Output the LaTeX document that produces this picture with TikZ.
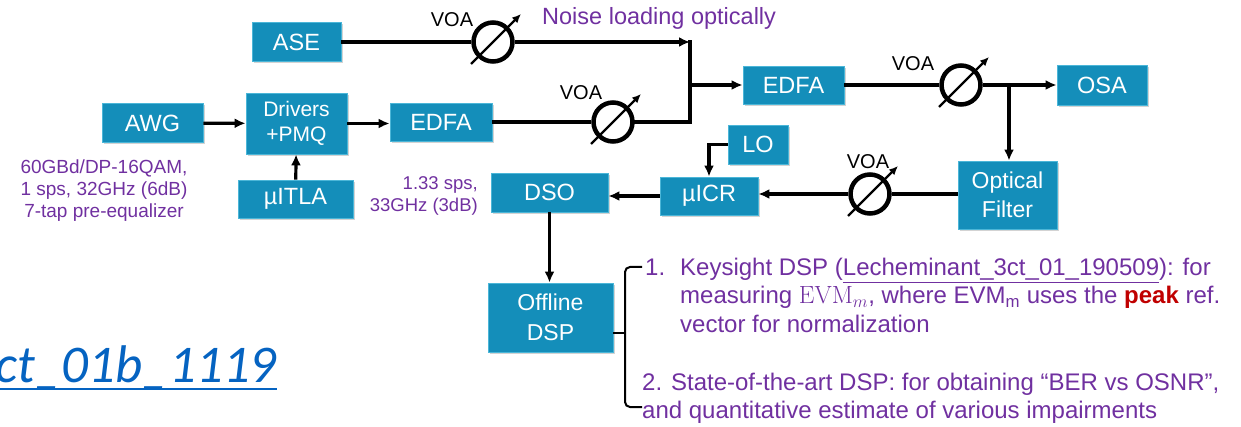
\documentclass[tikz,border=0pt]{standalone}
\usepackage[no-math]{fontspec}
\setmainfont{Liberation Sans}
\newfontfamily\linkfont{Carlito}
\usepackage{tikz}
\usetikzlibrary{positioning,arrows.meta,shadows}
\definecolor{boxteal}{RGB}{20,142,186}
\definecolor{boxedge}{RGB}{75,182,216}
\definecolor{notepurple}{RGB}{112,48,160}
\definecolor{peakred}{RGB}{192,0,0}
\definecolor{linkblue}{RGB}{5,99,193}
\tikzset{
  boxstyle/.style={rectangle, draw=boxedge, line width=0.8pt, fill=boxteal, text=white,
    minimum height=39pt, inner sep=0pt, align=center, font=\fontsize{23.5}{29}\selectfont,
    drop shadow={shadow xshift=1.5pt, shadow yshift=-2pt, opacity=0.35}},
  linestyle/.style={black, line width=3.2pt},
  arrowstyle/.style={-{Latex[length=11pt,width=10pt]}, black, line width=3.2pt},
  voastyle/.style={circle, draw=black, line width=4.5pt, fill=white, minimum size=39pt, inner sep=0pt},
  tunestyle/.style={-{Latex[length=9pt,width=8pt]}, black, line width=2.3pt},
  voalabel/.style={inner sep=0pt, font=\fontsize{20}{22}\selectfont},
  notestyle/.style={text=notepurple, inner sep=0pt, font=\fontsize{19}{22}\selectfont},
  itemstyle/.style={text=notepurple, inner sep=0pt, anchor=base west, font=\fontsize{24}{28}\selectfont},
  bracketline/.style={black, line width=2pt, rounded corners=5pt}
}

\begin{document}
\begin{tikzpicture}[x=1pt, y=-1pt]
  \useasboundingbox (0,0) rectangle (1241,427);

  % transmitter
  \node[boxstyle, minimum width=101pt] (awg) at (152.5,123) {AWG};
  \node[boxstyle, minimum width=101pt, minimum height=61pt, font=\fontsize{21}{25}\selectfont] (drv) at (296.5,123.5) {Drivers\\+PMQ};
  \node[boxstyle, minimum width=115pt, minimum height=38pt] (itla) at (295.5,199) {µITLA};
  \node[boxstyle, minimum width=89pt] (ase) at (296.5,42) {ASE};
  \node[boxstyle, minimum width=102pt, minimum height=38pt] (edfaA) at (441,122) {EDFA};

  % noise loading
  \node[voastyle] (voaA) at (493,42) {};
  \node[voastyle] (voaB) at (613,122) {};
  \coordinate (jtop) at (690,42);
  \coordinate (jbot) at (690,122);
  \coordinate (jmid) at (690,85);

  % receiver side
  \node[boxstyle, minimum width=101pt, minimum height=38pt] (edfaB) at (793.5,85) {EDFA};
  \node[voastyle] (voaC) at (961,85) {};
  \node[boxstyle, minimum width=90pt, minimum height=40pt] (osa) at (1102,85) {OSA};
  \coordinate (jsplit) at (1009,85);
  \node[boxstyle, minimum width=99pt, minimum height=68pt, font=\fontsize{23}{29}\selectfont] (filt) at (1007.5,195) {Optical\\Filter};
  \node[voastyle] (voaD) at (870,194) {};
  \node[boxstyle, minimum width=98pt, minimum height=38pt] (icr) at (709,196) {µICR};
  \node[boxstyle, minimum width=60pt] (lo) at (758,144.5) {LO};
  \node[boxstyle, minimum width=117pt] (dso) at (549.5,192.5) {DSO};
  \node[boxstyle, minimum width=125pt, minimum height=69pt, font=\fontsize{23}{30}\selectfont] (off) at (550.5,317.5) {Offline\\DSP};

  % labels
  \node[voalabel] (lblA) at (452,20) {VOA};
  \node[voalabel] (lblB) at (581,93) {VOA};
  \node[voalabel] (lblC) at (913,64) {VOA};
  \node[voalabel] (lblD) at (868,162) {VOA};
  \node[notestyle, anchor=base west, font=\fontsize{23.5}{28}\selectfont] (noise) at (542,25) {Noise loading optically};
  \node[notestyle, align=center] (awgnote) at (104,191) {60GBd/DP-16QAM,\\1 sps, 32GHz (6dB)\\7-tap pre-equalizer};
  \node[notestyle, align=right, anchor=east, font=\fontsize{18.5}{22}\selectfont] (dsonote) at (478,196) {1.33 sps,\\33GHz (3dB)};

  % connections
  \draw[arrowstyle] (awg) -- (drv);
  \draw[arrowstyle] (itla) -- (drv);
  \draw[arrowstyle] (drv.east) -- (drv.east -| edfaA.west);
  \draw[linestyle] (ase) -- (voaA);
  \draw[arrowstyle] (voaA) -- (jtop);
  \draw[linestyle] (edfaA) -- (voaB);
  \draw[linestyle, line cap=rect] (voaB) -- (jbot) -- (jtop);
  \draw[arrowstyle] (jmid) -- (edfaB);
  \draw[linestyle] (edfaB) -- (voaC);
  \draw[arrowstyle] (voaC) -- (osa);
  \draw[arrowstyle] (jsplit) -- (jsplit |- filt.north);
  \draw[linestyle] (filt.west |- voaD) -- (voaD);
  \draw[arrowstyle] (voaD) -- (voaD -| icr.east);
  \draw[arrowstyle] (lo.west) -| (icr.north);
  \draw[arrowstyle] (icr.west) -- (icr.west -| dso.east);
  \draw[arrowstyle] (dso) -- (dso |- off.north);

  % VOA tuning arrows
  \foreach \v in {voaA,voaB,voaC,voaD}
    \draw[tunestyle] ([shift={(-22,22)}]\v.center) -- ([shift={(28,-28)}]\v.center);

  % bracket and DSP notes
  \draw[bracketline] (642,267) -- (625,267) -- (625,407) -- (642,407);
  \draw[bracketline] ([yshift=-15.5pt]off.east) -- ++(12,0);
  \node[itemstyle] (numA) at (645,276) {1.};
  \node[itemstyle] (itemA1) at (680,276) {Keysight DSP (\underline{Lecheminant\_3ct\_01\_190509}): for};
  \node[itemstyle] (itemA2) at (680,304) {measuring \(\mathrm{EVM}_m\), where EVM\textsubscript{m} uses the \textcolor{peakred}{\textbf{peak}} ref.};
  \node[itemstyle] (itemA3) at (680,332) {vector for normalization};
  \node[itemstyle] (itemB1) at (642,390) {2. State-of-the-art DSP: for obtaining “BER vs OSNR”,};
  \node[itemstyle] (itemB2) at (642,418) {and quantitative estimate of various impairments};

  % link text
  \node[anchor=base east, inner sep=0pt, text=linkblue, font=\linkfont\itshape\fontsize{53}{60}\selectfont] (link) at (277,382) {ct\_01b\_1119};
  \draw[linkblue, line width=2pt] ([yshift=-7pt]link.base west) -- ([yshift=-7pt]link.base east);
\end{tikzpicture}
\end{document}
